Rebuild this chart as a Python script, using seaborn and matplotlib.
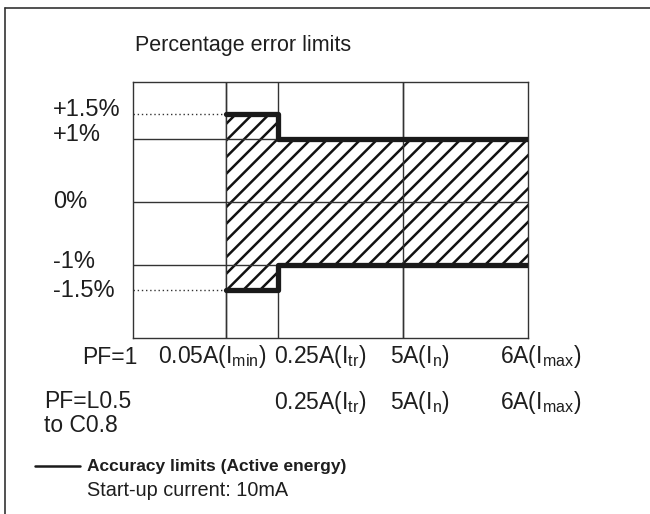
import numpy as np
import pandas as pd
import matplotlib
matplotlib.use("Agg")
import matplotlib.pyplot as plt
import seaborn as sns
from matplotlib.lines import Line2D

# column boundaries of the grid (x in arbitrary current-axis units)
x_edges = [0.0, 0.744, 1.16, 2.16, 3.16]
# error limits in percent
limit_start = 1.5   # between Imin and Itr
limit_main = 1.0    # from Itr to Imax
y_grid = [1.0, 0.0, -1.0]
y_labels = ["+1.5%", "+1%", "0%", "-1%", "-1.5%"]
row_pf1 = ["PF=1", "0.05A(I$_\\mathregular{min}$)", "0.25A(I$_\\mathregular{tr}$)",
           "5A(I$_\\mathregular{n}$)", "6A(I$_\\mathregular{max}$)"]
row_pf2 = ["PF=L0.5", "0.25A(I$_\\mathregular{tr}$)", "5A(I$_\\mathregular{n}$)",
           "6A(I$_\\mathregular{max}$)"]

sns.set_style("white")
plt.rcParams['font.family'] = ['Liberation Sans', 'DejaVu Sans']
plt.rcParams['mathtext.fontset'] = 'custom'
plt.rcParams['mathtext.rm'] = 'Liberation Sans'
plt.rcParams['hatch.linewidth'] = 1.8
txt = '#1e1e1e'

W, H = 650, 514
fig = plt.figure(figsize=(W / 100, H / 100), dpi=100)


def px(x, y):
    return x / W, 1 - y / H


# plot box in pixels: x 133-528, y 82-338
ax = fig.add_axes([133 / W, (H - 338) / H, 395 / W, 256 / H])


# the picture squeezes the +-1.5 band a bit
def fwd(y):
    y = np.asarray(y, dtype=float)
    a = np.abs(y)
    return np.where(a <= 1, y, np.sign(y) * (1 + (a - 1) * 0.82))


def inv(y):
    y = np.asarray(y, dtype=float)
    a = np.abs(y)
    return np.where(a <= 1, y, np.sign(y) * (1 + (a - 1) / 0.82))


ax.set_yscale('function', functions=(fwd, inv))
ax.set_xlim(x_edges[0], x_edges[-1])
ax.set_ylim(-2.43, 2.12)
ax.set_xticks([])
ax.set_yticks([])
for s in ax.spines.values():
    s.set_color('#333333')
    s.set_linewidth(1.0)

# grid
for xv in x_edges[1:-1]:
    ax.axvline(xv, color='#333333', lw=1.0, zorder=1)
for yv in y_grid:
    ax.axhline(yv, color='#333333', lw=1.0, zorder=1)
for yv in [limit_start, -limit_start]:
    ax.plot([x_edges[0], x_edges[1]], [yv, yv], color='#333333', lw=1.0, ls=(0, (1, 2)))

# hatched tolerance band
band_x = [x_edges[1], x_edges[2], x_edges[2], x_edges[4]]
band_hi = [limit_start, limit_start, limit_main, limit_main]
band_lo = [-v for v in band_hi]
ax.fill_between(band_x, band_lo, band_hi, facecolor='white', edgecolor='#111111',
                hatch='//', lw=0, zorder=2)
for yv in y_grid:
    ax.plot([x_edges[1], x_edges[4]], [yv, yv], color='#333333', lw=1.0, zorder=3)
ax.axvline(x_edges[1], color='#333333', lw=1.0, zorder=3)
ax.axvline(x_edges[3], color='#333333', lw=1.0, zorder=3)

limits = pd.DataFrame({
    "x": band_x + band_x,
    "y": band_hi + band_lo,
    "side": ["upper"] * 4 + ["lower"] * 4,
})
sns.lineplot(data=limits, x="x", y="y", units="side", estimator=None, sort=False,
             color='#1a1a1a', lw=3.8, ax=ax, zorder=4, legend=False)
ax.set_xlabel("")
ax.set_ylabel("")

# outer frame
fig.add_artist(Line2D([5 / W, 1], [1 - 8 / H] * 2, color='#333333', lw=1.2))
fig.add_artist(Line2D([5 / W] * 2, [1 - 8 / H, 0], color='#333333', lw=1.2))

fs = 16.5
fig.text(*px(135, 46), "Percentage error limits", fontsize=15.5, color=txt, va='center')
for lab, yy in zip(y_labels, [110, 135, 202, 262, 291]):
    fig.text(*px(53, yy), lab, fontsize=17, color=txt, va='center')
for lab, xx in zip(row_pf1, [82, 158, 274, 390, 500]):
    fig.text(*px(xx, 357), lab, fontsize=fs, color=txt, va='center')
for lab, xx in zip(row_pf2, [44, 274, 390, 500]):
    fig.text(*px(xx, 402), lab, fontsize=fs, color=txt, va='center')
fig.text(*px(44, 426), "to C0.8", fontsize=fs, color=txt, va='center')

fig.add_artist(Line2D([35 / W, 80 / W], [1 - 466 / H] * 2, color='#1a1a1a', lw=1.8))
fig.text(*px(87, 466), "Accuracy limits (Active energy)", fontsize=12.5, fontweight='bold',
         color=txt, va='center')
fig.text(*px(87, 490), "Start-up current: 10mA", fontsize=14.3, color=txt, va='center')

fig.savefig("out.png", dpi=100)
